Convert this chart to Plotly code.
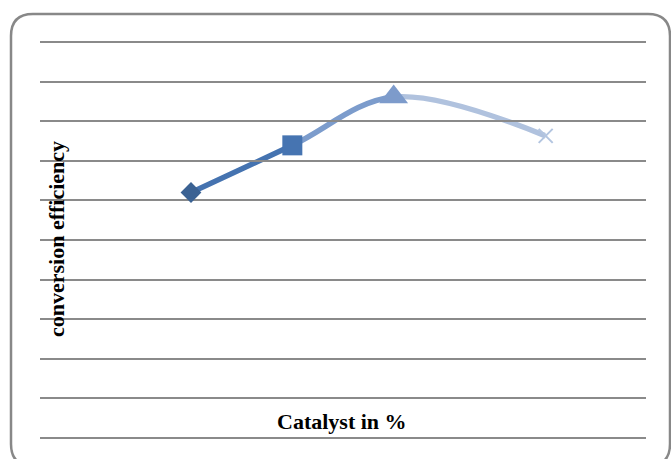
import plotly.graph_objects as go

# ---- data ----
catalyst = [1, 2, 3, 4.5]
efficiency = [62.0, 73.9, 86.1, 76.3]
marker_symbols = ["diamond", "square", "triangle-up", "x-thin-open"]
marker_colors = ["#3B6293", "#4674B1", "#7D9BCB", "#B3C5E0"]
marker_sizes = [16, 20, 25, 14]
segment_colors = ["#4573B0", "#7C9CCC", "#B0C2DE"]
x_title = "Catalyst in %"
y_title = "conversion efficiency"

W, H = 671, 459
ML, MR, MT, MB = 40, 25, 40, 19
XR = [-0.49, 5.49]
YR = [-0.5, 100.5]
PW = W - ML - MR
PH = H - MT - MB

fig = go.Figure()
layout_axes = {}

# one subplot per line segment so each segment gets its own colour,
# while the full spline keeps its shape (clipped to the segment's domain)
nseg = len(catalyst) - 1
for k in range(nseg):
    a = (catalyst[k] - XR[0]) / (XR[1] - XR[0])
    b = (catalyst[k + 1] - XR[0]) / (XR[1] - XR[0])
    name = "xaxis%d" % (k + 2)
    layout_axes[name] = dict(domain=[a, b], range=[catalyst[k], catalyst[k + 1]],
                             visible=False, anchor="y", showgrid=False, zeroline=False)
    fig.add_trace(go.Scatter(
        x=catalyst, y=efficiency, mode="lines",
        line=dict(color=segment_colors[k], width=5.5, shape="spline", smoothing=1),
        xaxis="x%d" % (k + 2), yaxis="y", hoverinfo="skip", showlegend=False))

# markers on a full-width axis drawn after the segment subplots
mk_axis = nseg + 2
layout_axes["xaxis%d" % mk_axis] = dict(domain=[0, 1], range=XR, visible=False,
                                        anchor="y", showgrid=False, zeroline=False)
for i in range(len(catalyst)):
    is_open = marker_symbols[i].endswith("open")
    fig.add_trace(go.Scatter(
        x=[catalyst[i]], y=[efficiency[i]], mode="markers",
        marker=dict(symbol=marker_symbols[i], size=marker_sizes[i],
                    color=marker_colors[i],
                    line=dict(width=2 if is_open else 0, color=marker_colors[i])),
        xaxis="x%d" % mk_axis, yaxis="y",
        showlegend=False, cliponaxis=False))


def px(xp):
    return (xp - ML) / PW


def py(yp):
    return (MT + PH - yp) / PH


# rounded border
x0, x1, y0, y1, r = 11, 670, 14, 466, 22
path = (
    f"M {px(x0 + r)},{py(y0)} L {px(x1 - r)},{py(y0)} "
    f"Q {px(x1)},{py(y0)} {px(x1)},{py(y0 + r)} "
    f"L {px(x1)},{py(y1 - r)} Q {px(x1)},{py(y1)} {px(x1 - r)},{py(y1)} "
    f"L {px(x0 + r)},{py(y1)} Q {px(x0)},{py(y1)} {px(x0)},{py(y1 - r)} "
    f"L {px(x0)},{py(y0 + r)} Q {px(x0)},{py(y0)} {px(x0 + r)},{py(y0)} Z"
)

fig.update_layout(
    width=W, height=H,
    margin=dict(l=ML, r=MR, t=MT, b=MB),
    paper_bgcolor="white", plot_bgcolor="rgba(0,0,0,0)",
    showlegend=False,
    xaxis=dict(range=XR, visible=False, showgrid=False, zeroline=False),
    yaxis=dict(range=YR, tickmode="linear", tick0=0, dtick=10,
               showgrid=True, gridcolor="#8a8a8a", gridwidth=2,
               zeroline=False, showticklabels=False, ticks="", showline=False),
    shapes=[dict(type="path", path=path, xref="paper", yref="paper",
                 line=dict(color="#888888", width=2.5), layer="above")],
    annotations=[
        dict(text="<b>" + x_title + "</b>", xref="paper", yref="paper",
             x=px(342), y=py(421), xanchor="center", yanchor="middle",
             showarrow=False,
             font=dict(family="Liberation Serif", size=22, color="black")),
        dict(text="<b>" + y_title + "</b>", xref="paper", yref="paper",
             x=px(56), y=py(239), xanchor="center", yanchor="middle",
             textangle=-90, showarrow=False,
             font=dict(family="Liberation Serif", size=22, color="black")),
    ],
    **layout_axes,
)

fig.write_html("out.html", config={"displayModeBar": False},
               post_script="document.body.style.margin='0px';")
